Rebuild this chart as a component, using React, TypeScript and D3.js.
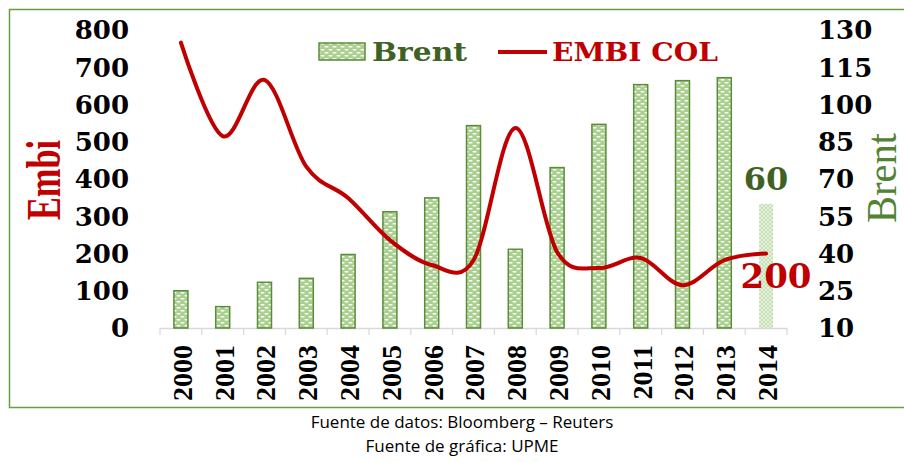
import React from "react";
import * as d3 from "d3";

// chart values
const years = ["2000", "2001", "2002", "2003", "2004", "2005", "2006", "2007", "2008", "2009", "2010", "2011", "2012", "2013", "2014"];
const brent = [25, 18.6, 28.4, 30, 39.6, 56.8, 62.4, 91.5, 41.7, 74.6, 92, 108, 109.6, 110.8, 60];
const embi = [766, 515, 666, 433, 349, 236, 169, 182, 537, 204, 161, 188, 115, 182, 200];
const embiTicks = [0, 100, 200, 300, 400, 500, 600, 700, 800];
const brentTicks = [10, 25, 40, 55, 70, 85, 100, 115, 130];
const footer = ["Fuente de datos: Bloomberg \u2013 Reuters", "Fuente de gr\u00e1fica: UPME"];

const W = 904;
const H = 462;
const RED = "#c00000";
const DARKGREEN = "#3f6224";
const serifBold = "'DejaVu Serif', serif";
const timesFont = "'Liberation Serif', serif";

export default function App() {
  const x = d3.scaleBand().domain(years).range([160, 787]);
  const yL = d3.scaleLinear().domain([0, 800]).range([328, 30]);
  const yR = d3.scaleLinear().domain([10, 130]).range([328, 30]);
  const barW = 14;

  const line = d3
    .line<number>()
    .x((d, i) => x(years[i])! + x.bandwidth() / 2)
    .y((d) => yL(d))
    .curve(d3.curveCatmullRom.alpha(0));

  const last = years.length - 1;
  const lastX = x(years[last])! + x.bandwidth() / 2;

  return (
    <svg width={W} height={H} style={{ position: "absolute", left: 0, top: 0, background: "#fff" }}>
      <defs>
        <pattern id="dash" width="8" height="6" patternUnits="userSpaceOnUse">
          <rect width="8" height="6" fill="#a9d08e" />
          <rect x="0.5" y="1" width="4" height="1.4" rx="0.7" fill="#fff" />
          <rect x="4.5" y="4" width="4" height="1.4" rx="0.7" fill="#fff" />
          <rect x="-3.5" y="4" width="4" height="1.4" rx="0.7" fill="#fff" />
        </pattern>
        <pattern id="cross" width="4" height="4" patternUnits="userSpaceOnUse">
          <rect width="4" height="4" fill="#c5e0b4" />
          <path d="M0,0L4,4M4,0L0,4" stroke="#eef6e8" strokeWidth="0.8" />
        </pattern>
      </defs>

      {/* frame */}
      <rect x={9.5} y={9.5} width={905} height={398} fill="none" stroke="#6a9b46" strokeWidth={1.5} />

      {/* x axis */}
      <line x1={160} x2={787} y1={328.5} y2={328.5} stroke="#d9d9d9" strokeWidth={1.5} />
      {years.concat(["end"]).map((y, i) => {
        const xx = 160 + i * x.bandwidth();
        return <line key={"t" + i} x1={xx} x2={xx} y1={328} y2={335} stroke="#d9d9d9" strokeWidth={1.2} />;
      })}

      {/* bars */}
      {brent.map((v, i) => {
        const bx = x(years[i])! + x.bandwidth() / 2 - barW / 2;
        const isLast = i === last;
        return (
          <rect
            key={"b" + i}
            x={bx}
            y={yR(v)}
            width={barW}
            height={yR(10) - yR(v)}
            fill={isLast ? "url(#cross)" : "url(#dash)"}
            stroke={isLast ? "none" : "#5b8c3a"}
            strokeWidth={1.5}
          />
        );
      })}

      {/* EMBI line */}
      <path d={line(embi)!} fill="none" stroke={RED} strokeWidth={4} strokeLinecap="round" />

      {/* left ticks */}
      {embiTicks.map((t) => (
        <text key={"l" + t} x={129} y={yL(t)} dy="0.36em" textAnchor="end" fontFamily={serifBold} fontWeight="bold" fontSize={26} fill="#000">
          {t}
        </text>
      ))}
      {/* right ticks */}
      {brentTicks.map((t) => (
        <text key={"r" + t} x={818} y={yR(t)} dy="0.36em" textAnchor="start" fontFamily={serifBold} fontWeight="bold" fontSize={26} fill="#000">
          {t}
        </text>
      ))}

      {/* year labels */}
      {years.map((y) => (
        <text
          key={"y" + y}
          transform={`translate(${x(y)! + x.bandwidth() / 2 + 1},345) rotate(-90)`}
          dy="0.35em"
          textAnchor="end"
          fontFamily={timesFont}
          fontWeight="bold"
          fontSize={28}
          fill="#000"
        >
          {y}
        </text>
      ))}

      {/* axis titles */}
      <text transform="translate(60,180) rotate(-90)" textAnchor="middle" fontFamily={timesFont} fontWeight="bold" fontSize={48} textLength={80} lengthAdjust="spacingAndGlyphs" fill={RED}>
        Embi
      </text>
      <text transform="translate(896,178) rotate(-90)" textAnchor="middle" fontFamily={timesFont} fontSize={42} textLength={90} lengthAdjust="spacingAndGlyphs" fill="#548235">
        Brent
      </text>

      {/* legend */}
      <rect x={319} y={43} width={46} height={17} fill="url(#dash)" stroke="#5b8c3a" strokeWidth={1.5} />
      <text x={372} y={61} fontFamily={serifBold} fontWeight="bold" fontSize={26} textLength={95} lengthAdjust="spacingAndGlyphs" fill={DARKGREEN}>
        Brent
      </text>
      <line x1={498} x2={547} y1={52} y2={52} stroke={RED} strokeWidth={4} />
      <text x={552} y={61} fontFamily={serifBold} fontWeight="bold" fontSize={26} textLength={166} lengthAdjust="spacingAndGlyphs" fill={RED}>
        EMBI COL
      </text>

      {/* value labels */}
      <text x={lastX} y={190} textAnchor="middle" fontFamily={serifBold} fontWeight="bold" fontSize={32} fill={DARKGREEN}>
        {brent[last]}
      </text>
      <text x={776} y={288} textAnchor="middle" fontFamily={serifBold} fontWeight="bold" fontSize={34} fill={RED}>
        {embi[last]}
      </text>

      {/* footer */}
      {footer.map((f, i) => (
        <text key={"f" + i} x={462} y={428 + i * 24} textAnchor="middle" fontFamily="'Open Sans', sans-serif" fontSize={17} fill="#000">
          {f}
        </text>
      ))}
    </svg>
  );
}
